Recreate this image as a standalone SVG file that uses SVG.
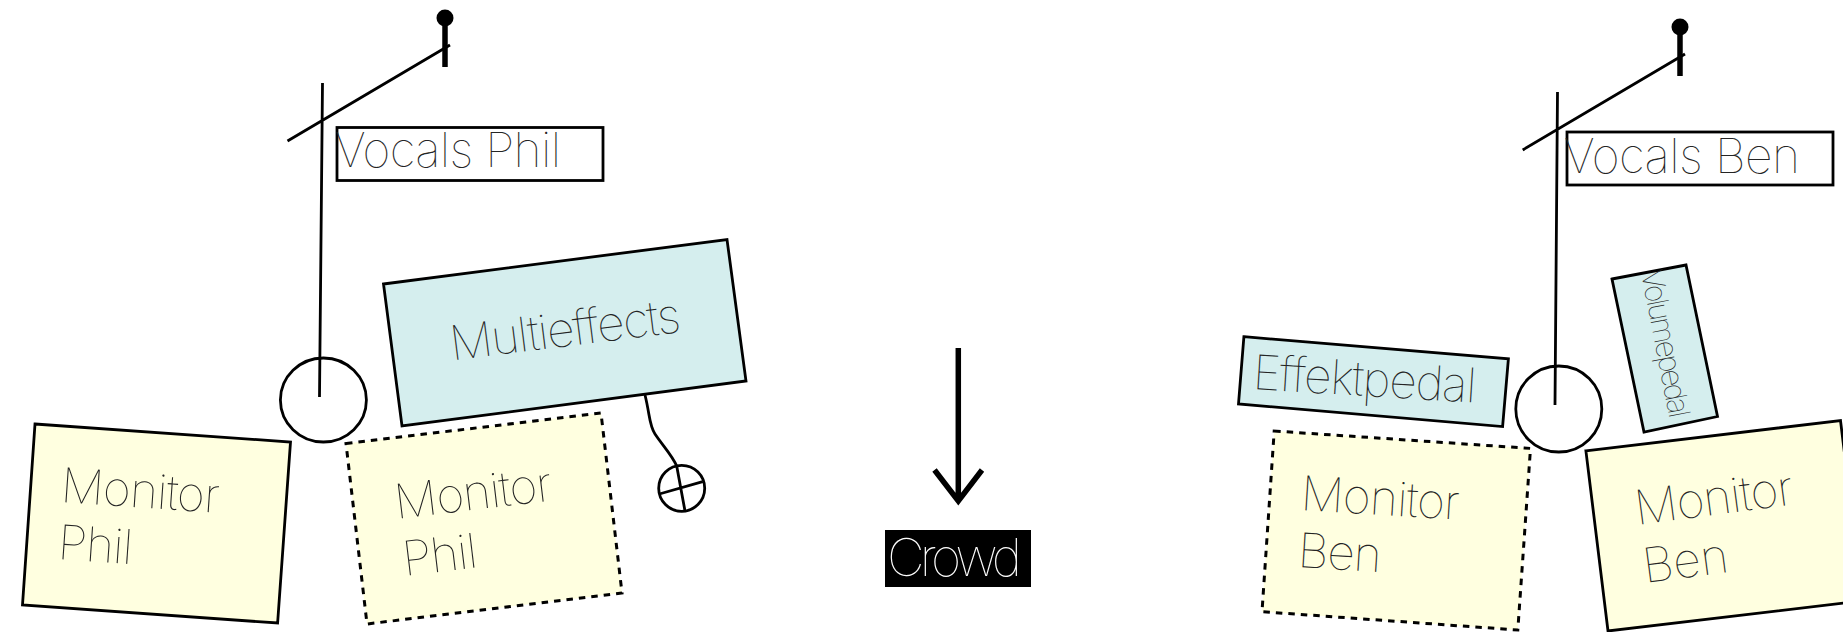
<svg xmlns="http://www.w3.org/2000/svg" width="1843" height="632" viewBox="0 0 1843 632">
<style>
.l{fill:none;stroke:#000;stroke-width:2.800}
.b{fill:none;stroke:#000;stroke-width:5.500}
.box{stroke:#000;stroke-width:2.800}
.dash{stroke:#000;stroke-width:3;stroke-dasharray:6.500 6}
.y{fill:#ffffe0}
.c{fill:#d5eeee}
text{font-family:"Inter","Liberation Sans",sans-serif;font-weight:100;font-size:48px;fill:#222;opacity:.99}
</style>
<rect width="1843" height="632" fill="#fff"/>
<g id="mic-phil">
<circle cx="445" cy="18" r="8.500" fill="#000"/>
<path class="b" d="M445 18V67"/>
<path class="l" d="M287.500 141L450 45M322.500 83L319.500 397"/>
<ellipse class="l" cx="323.400" cy="400" rx="43" ry="42"/>
</g>
<g id="label-vocals-phil">
<rect x="337" y="127.500" width="266" height="53" fill="none" class="box"/>
<text x="335" y="167" textLength="226">Vocals Phil</text>
</g>
<g id="multieffects">
<polygon class="box c" points="383.500,284 727,239.500 746,381 402,426"/>
<text transform="translate(452 360.500) rotate(-7.100)" textLength="232">Multieffects</text>
</g>
<g id="monitor-phil-1">
<polygon class="box y" points="35,424 290.500,442 277.600,623 22.500,605"/>
<text transform="translate(60 502) rotate(3.900)" textLength="159">Monitor</text>
<text transform="translate(57 559) rotate(3.900)" textLength="75">Phil</text>
</g>
<g id="monitor-phil-2">
<polygon class="dash y" points="346,443.500 601,413 622,593 367,624"/>
<text transform="translate(396.500 519) rotate(-6.800)" textLength="158">Monitor</text>
<text transform="translate(404.500 576) rotate(-6.800)" textLength="75">Phil</text>
</g>
<g id="mic-ben">
<circle cx="1680" cy="27" r="8.500" fill="#000"/>
<path class="b" d="M1680 27V76"/>
<path class="l" d="M1522.700 150L1685 54M1557.500 92L1555 405"/>
<circle class="l" cx="1558.800" cy="409" r="43"/>
</g>
<g id="label-vocals-ben">
<rect x="1567" y="132" width="266" height="53" fill="none" class="box"/>
<text x="1564" y="173" textLength="236">Vocals Ben</text>
</g>
<g id="volumepedal">
<polygon class="box c" points="1612,279 1686,265 1717.500,416.500 1644,432"/>
<text transform="translate(1641 272) rotate(79)" style="font-size:30px" textLength="150">Volumepedal</text>
</g>
<g id="effektpedal">
<polygon class="box c" points="1243.900,336.700 1508.400,358.900 1502.600,426.600 1238.500,404"/>
<text transform="translate(1252 389) rotate(3.500)" textLength="224">Effektpedal</text>
</g>
<g id="monitor-ben-1">
<polygon class="dash y" points="1274.200,431 1530.500,448.400 1517.800,630 1262,611.700"/>
<text transform="translate(1300 510) rotate(3.500)" textLength="159">Monitor</text>
<text transform="translate(1297 567) rotate(3.500)" textLength="84">Ben</text>
</g>
<g id="monitor-ben-2">
<polygon class="box y" points="1585.900,450.800 1840.500,420.600 1862.500,600.800 1608,631"/>
<text transform="translate(1637 525) rotate(-7.500)" textLength="159">Monitor</text>
<text transform="translate(1645 583) rotate(-7.500)" textLength="86">Ben</text>
</g>
<g id="crowd">
<rect x="885" y="530" width="146" height="57" fill="#000"/>
<text x="887" y="576" style="font-size:52px;fill:#fff" textLength="135">Crowd</text>
</g>
<g id="pedal-switch">
<circle class="l" cx="681.700" cy="488.300" r="23"/>
<path class="l" d="M676.700 466L685 511M659.300 494L702.700 481.700"/>
</g>
<g id="connectors">
<path class="l" d="M645 395C650 415 649 425 655 434C663 446 672 455 676.700 466"/>
<path class="b" d="M958.300 348V500M934.500 470L958.300 501L982 470"/>
</g>
</svg>
